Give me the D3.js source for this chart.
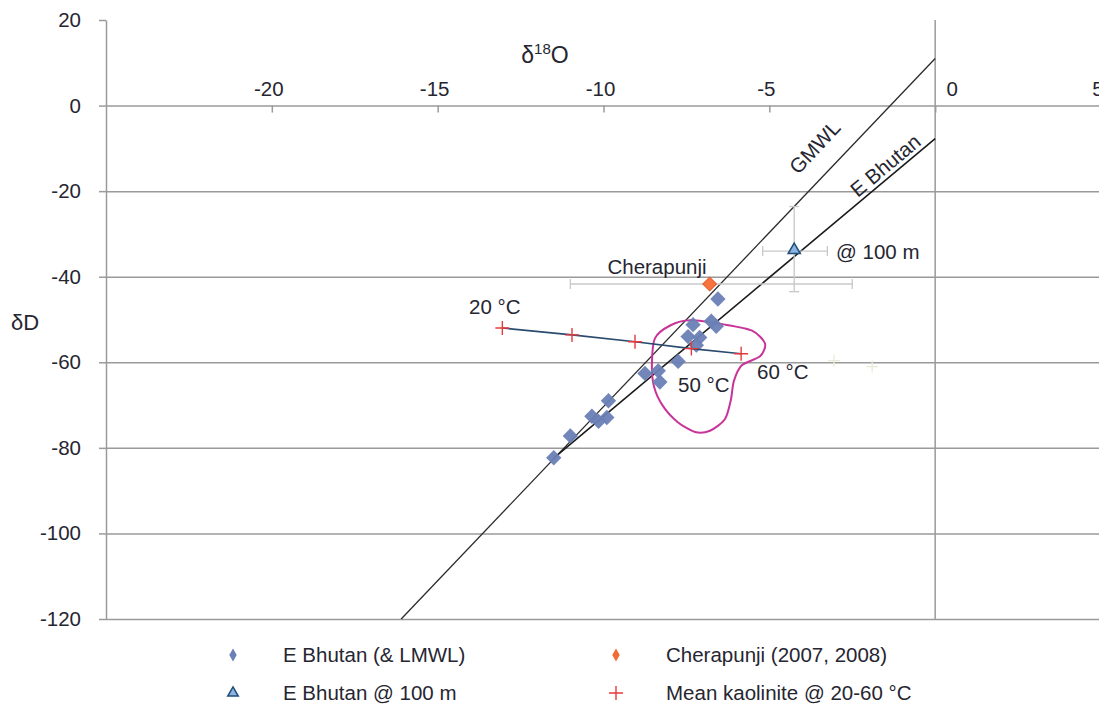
<!DOCTYPE html>
<html>
<head>
<meta charset="utf-8">
<script src="https://cdn.jsdelivr.net/npm/d3@7/dist/d3.min.js"></script>
<style>
  body { margin: 0; background: #fff; }
  svg { display: block; font-family: "Liberation Sans", Arial, sans-serif; }
</style>
</head>
<body>
<svg width="1099" height="707"></svg>
<script>
// data (δ18O, δD)
var eBhutan = [[-6.55, -45.2], [-7.3, -51.2], [-6.75, -50.4], [-6.6, -51.6], [-7.45, -54.0],
  [-7.1, -54.2], [-7.2, -56.0], [-7.75, -59.8], [-8.75, -62.6], [-8.35, -62.0], [-8.3, -64.6],
  [-9.85, -69.0], [-10.35, -72.6], [-9.9, -72.9], [-10.15, -73.8], [-11.0, -77.2], [-11.5, -82.3]];
var cherapunji = [[-6.8, -41.7]];
var cherapunjiErrX = [-11.0, -2.5];
var bhutan100 = [[-4.25, -34.0]];
var bhutan100ErrX = [-5.2, -3.25];
var bhutan100ErrY = [-23.6, -43.5];
var kaolinite = [[-13.05, -52.0], [-10.95, -53.6], [-9.05, -55.2], [-7.35, -56.8], [-5.85, -58.0]];
var faintPlus = [[-3.05, -59.6], [-1.9, -61.0]];
var gmwl = [[-16.1, -120], [0, 11]];
var eBhutanLine = [[-11.5, -82.4], [0, -7.7]];
var loop = [[-8.45, -54.4], [-7.99, -51.4], [-7.39, -50.2], [-6.34, -51.2], [-5.52, -52.6],
  [-5.13, -55.6], [-5.28, -58.6], [-5.83, -60.7], [-6.07, -64.4], [-6.16, -68.8], [-6.34, -73.3],
  [-6.79, -76.0], [-7.24, -76.3], [-7.76, -74.0], [-8.21, -70.2], [-8.48, -65.6], [-8.54, -60.2]];
var xTicks = [-20, -15, -10, -5, 0, 5];
var yTicks = [20, 0, -20, -40, -60, -80, -100, -120];
var gridTicks = [-20, -40, -60, -80, -100, -120];
var legendItems = [
  {name: "E Bhutan (& LMWL)", type: "diamond", color: "#6a7fb6"},
  {name: "Cherapunji (2007, 2008)", type: "diamond", color: "#f26b32"},
  {name: "E Bhutan @ 100 m", type: "triangle", color: "#8db3e2"},
  {name: "Mean kaolinite @ 20-60 °C", type: "plus", color: "#e8393a"}
];

var svg = d3.select("svg");
var textColor = "#262631";
var gridColor = "#9a9a9a";
var fs = "20.5px";

var x = d3.scaleLinear().domain([-25, 5]).range([106, 1101]);
var y = d3.scaleLinear().domain([-120, 20]).range([619, 20]);

// gridlines
svg.append("g")
  .attr("transform", "translate(106,0)")
  .call(d3.axisLeft(y).tickValues(gridTicks).tickSize(-1000).tickFormat(""))
  .call(g => g.select(".domain").remove())
  .selectAll("line").attr("stroke", gridColor).attr("stroke-width", 1.5);

// y axis (left)
var yAxis = svg.append("g")
  .attr("transform", "translate(106,0)")
  .call(d3.axisLeft(y).tickValues(yTicks).tickSize(7).tickSizeOuter(0).tickPadding(18)
    .tickFormat(d => String(d)));
yAxis.select(".domain").attr("stroke", gridColor).attr("stroke-width", 1.5);
yAxis.selectAll("line").attr("stroke", gridColor).attr("stroke-width", 1.5);
yAxis.selectAll("text").attr("fill", textColor).style("font-size", fs);

// vertical line at x = 0
svg.append("line")
  .attr("x1", x(0)).attr("x2", x(0))
  .attr("y1", y(20)).attr("y2", y(-120))
  .attr("stroke", gridColor).attr("stroke-width", 1.5);

// x axis along y = 0
var xAxis = svg.append("g")
  .attr("transform", "translate(0," + y(0) + ")")
  .call(d3.axisBottom(x).tickValues(xTicks).tickSize(7).tickSizeOuter(0).tickFormat(""));
xAxis.select(".domain").attr("stroke", gridColor).attr("stroke-width", 1.5);
xAxis.selectAll("line").attr("stroke", gridColor).attr("stroke-width", 1.5);

svg.append("g").selectAll("text")
  .data(xTicks)
  .enter().append("text")
  .attr("x", d => x(d) + (d === 0 ? 17 : -3))
  .attr("y", y(0) - 10)
  .attr("text-anchor", "middle")
  .attr("fill", textColor)
  .style("font-size", fs)
  .text(d => String(d));

// axis titles
var xt = svg.append("text")
  .attr("x", 545).attr("y", 63)
  .attr("text-anchor", "middle")
  .attr("fill", textColor)
  .style("font-size", "23px");
xt.append("tspan").text("δ");
xt.append("tspan").attr("dy", -9).style("font-size", "15px").text("18");
xt.append("tspan").attr("dy", 9).text("O");

svg.append("text")
  .attr("x", 11).attr("y", 330)
  .attr("fill", textColor)
  .style("font-size", "22px")
  .text("δD");

// lines
var line = d3.line().x(d => x(d[0])).y(d => y(d[1]));

svg.append("path").datum(gmwl).attr("d", line)
  .attr("fill", "none").attr("stroke", "#2b2b2b").attr("stroke-width", 1.3);
svg.append("path").datum(eBhutanLine).attr("d", line)
  .attr("fill", "none").attr("stroke", "#1a1a1a").attr("stroke-width", 1.6);

// magenta loop
svg.append("path").datum(loop)
  .attr("d", d3.line().x(d => x(d[0])).y(d => y(d[1])).curve(d3.curveCardinalClosed.tension(0.2)))
  .attr("fill", "none").attr("stroke", "#c8349a").attr("stroke-width", 2);

// error bars
var errColor = "#c8c8c8";
function hBar(xs, yv) {
  svg.append("line").attr("x1", x(xs[0])).attr("x2", x(xs[1]))
    .attr("y1", y(yv)).attr("y2", y(yv)).attr("stroke", errColor).attr("stroke-width", 1.3);
  xs.forEach(function (v) {
    svg.append("line").attr("x1", x(v)).attr("x2", x(v))
      .attr("y1", y(yv) - 5).attr("y2", y(yv) + 5).attr("stroke", errColor).attr("stroke-width", 1.3);
  });
}
function vBar(ys, xv) {
  svg.append("line").attr("x1", x(xv)).attr("x2", x(xv))
    .attr("y1", y(ys[0])).attr("y2", y(ys[1])).attr("stroke", errColor).attr("stroke-width", 1.3);
  ys.forEach(function (v) {
    svg.append("line").attr("x1", x(xv) - 5).attr("x2", x(xv) + 5)
      .attr("y1", y(v)).attr("y2", y(v)).attr("stroke", errColor).attr("stroke-width", 1.3);
  });
}
hBar(cherapunjiErrX, cherapunji[0][1]);
hBar(bhutan100ErrX, bhutan100[0][1]);
vBar(bhutan100ErrY, bhutan100[0][0]);

// faint marks
svg.append("g").selectAll("path").data(faintPlus).enter().append("path")
  .attr("transform", d => "translate(" + x(d[0]) + "," + y(d[1]) + ")")
  .attr("d", "M-6,0H6M0,-6V6")
  .attr("stroke", "#e6ecd8").attr("stroke-width", 1.3);

// E Bhutan diamonds
var diamond = d3.symbol().type(d3.symbolSquare).size(118);
svg.append("g").selectAll("path").data(eBhutan).enter().append("path")
  .attr("transform", d => "translate(" + x(d[0]) + "," + y(d[1]) + ") rotate(45)")
  .attr("d", diamond)
  .attr("fill", "#6a7fb6").attr("fill-opacity", 0.95);

// Cherapunji
svg.append("g").selectAll("path").data(cherapunji).enter().append("path")
  .attr("transform", d => "translate(" + x(d[0]) + "," + y(d[1]) + ") rotate(45)")
  .attr("d", d3.symbol().type(d3.symbolSquare).size(95))
  .attr("fill", "#f7743e").attr("stroke", "#e8592a").attr("stroke-width", 1);

// kaolinite line + markers
svg.append("path").datum(kaolinite).attr("d", line)
  .attr("fill", "none").attr("stroke", "#2a4a6e").attr("stroke-width", 1.6);
svg.append("g").selectAll("path").data(kaolinite).enter().append("path")
  .attr("transform", d => "translate(" + x(d[0]) + "," + y(d[1]) + ")")
  .attr("d", "M-7,0H7M0,-7V7")
  .attr("stroke", "#e8393a").attr("stroke-width", 1.4);

// E Bhutan @ 100 m triangle
svg.append("g").selectAll("path").data(bhutan100).enter().append("path")
  .attr("transform", d => "translate(" + x(d[0]) + "," + (y(d[1]) - 1) + ")")
  .attr("d", d3.symbol().type(d3.symbolTriangle).size(64))
  .attr("fill", "#8db3e2").attr("stroke", "#1f4e79").attr("stroke-width", 1.5);

// annotations
function label(txt, px, py, rot, anchor) {
  svg.append("text")
    .attr("transform", "translate(" + px + "," + py + ")" + (rot ? " rotate(" + rot + ")" : ""))
    .attr("text-anchor", anchor || "start")
    .attr("fill", textColor)
    .style("font-size", fs)
    .text(txt);
}
label("Cherapunji", 657, 274, 0, "middle");
label("@ 100 m", 836, 259);
label("20 °C", 469, 314);
label("50 °C", 678, 392);
label("60 °C", 757, 379);
label("GMWL", 820, 152, -47, "middle");
label("E Bhutan", 890, 171, -40, "middle");

// legend
var legendPos = [[233, 655], [616, 655], [233, 693], [616, 693]];
var lg = svg.append("g").selectAll("g").data(legendItems).enter().append("g")
  .attr("transform", (d, i) => "translate(" + legendPos[i][0] + "," + legendPos[i][1] + ")");
lg.each(function (d) {
  var g = d3.select(this);
  if (d.type === "diamond") {
    g.append("path")
      .attr("d", d3.symbol().type(d3.symbolDiamond).size(48)).attr("fill", d.color);
  } else if (d.type === "triangle") {
    g.append("path").attr("d", d3.symbol().type(d3.symbolTriangle).size(48))
      .attr("fill", d.color).attr("stroke", "#1f4e79").attr("stroke-width", 1.5);
  } else {
    g.append("path").attr("d", "M-7,0H7M0,-7V7").attr("stroke", d.color).attr("stroke-width", 1.4);
  }
  g.append("text").attr("x", 50).attr("y", 7)
    .attr("fill", textColor).style("font-size", fs).text(d.name);
});
</script>
</body>
</html>
